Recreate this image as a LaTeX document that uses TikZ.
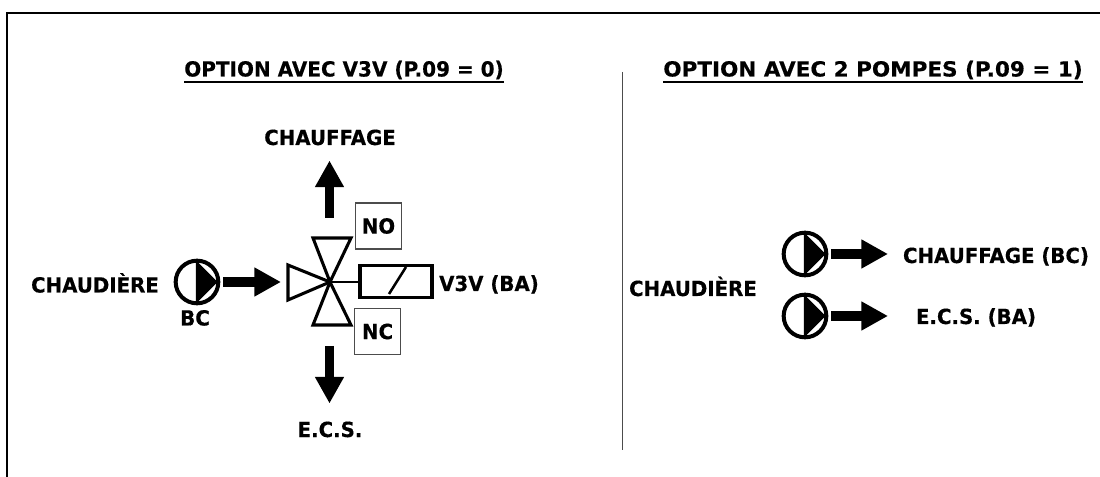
\documentclass[tikz,border=0pt]{standalone}
\usepackage{fontspec}
\usepackage{graphicx}
\setmainfont{DejaVu Sans}[BoldFeatures={FakeStretch=0.95,FakeBold=0.4}]
\usetikzlibrary{arrows.meta,calc}
\definecolor{boxgray}{gray}{0.3}
\newcommand{\ulin}[1]{\vtop{\hbox{#1}\kern 1.3pt\hrule height 1.6pt}}
\tikzset{
  x=0.75pt,y=-0.75pt,
  lbl/.style={inner sep=0pt,anchor=base,font=\fontsize{15.6}{18}\selectfont\bfseries},
  ttl/.style={lbl},
  pumpc/.style={circle,draw=black,line width=3pt,minimum size=32pt,inner sep=0pt,fill=white},
  flow/.style={line width=6.8pt,-{Triangle[length=20pt,width=20.5pt]}},
  vtri/.style={draw=black,line width=2.3pt,fill=white,line join=miter},
  tagbox/.style={draw=boxgray,line width=0.9pt,minimum width=34.5pt,minimum height=34.5pt,inner sep=0pt,font=\fontsize{15.6}{18}\selectfont\bfseries},
}
\newcommand{\pumpmark}[1]{%
  \draw[line width=1.5pt] (#1.north) -- (#1.south);
  \filldraw[line width=1.6pt,line join=round] ($(#1.center)+(0,-19)$) -- ($(#1.center)+(19,0)$) -- ($(#1.center)+(0,19)$) -- cycle;
}
\begin{document}
\begin{tikzpicture}
\useasboundingbox (0,0) rectangle (1100,477);
\fill[white] (0,0) rectangle (1100,477);
% frame
\draw[line width=1.5pt] (7,477) -- (7,13) -- (1100,13);
% divider
\coordinate (divT) at (622,72);
\coordinate (divB) at (622,450);
\draw[line width=0.7pt,draw=black!70] (divT) -- (divB);
% titles
\node[ttl] (t1) at (344,76.5) {\ulin{\scalebox{1.012}[1]{OPTION AVEC V3V (P.09 = 0)}}};
\node[ttl] (t2) at (873,76.5) {\ulin{\scalebox{1.089}[1]{OPTION AVEC 2 POMPES (P.09 = 1)}}};
% left side
\node[lbl] (chauf) at (330,145) {CHAUFFAGE};
\node[lbl] (chaud) at (95,292.5) {CHAUDIÈRE};
\node[lbl] (bc) at (195,325.5) {BC};
\node[lbl] (v3v) at (489,291) {V3V (BA)};
\node[lbl] (ecs) at (330,437) {E.C.S.};
\node[tagbox] (no) at (378.5,226) {NO};
\node[tagbox] (nc) at (377.5,331.5) {NC};
\node[pumpc] (p1) at (197,282) {};
\pumpmark{p1}
% valve
\coordinate (vc) at (330,282);
\coordinate (upS) at (329.5,218);
\coordinate (upE) at (329.5,160.5);
\coordinate (dnS) at (329.5,346);
\coordinate (dnE) at (329.5,403.5);
\coordinate (inE) at (281,282);
\draw[vtri] (vc) -- (313,238) -- (351,238) -- cycle;
\draw[vtri] (vc) -- (313,325) -- (351,325) -- cycle;
\draw[vtri] (vc) -- (288,265) -- (288,300) -- cycle;
\node[draw=black,line width=2.6pt,minimum width=54pt,minimum height=24pt,inner sep=0pt] (sol) at (396,281.5) {};
\draw[line width=1.5pt] (vc) -- (vc -| sol.west);
\coordinate (slA) at (389,294);
\coordinate (slB) at (406,267);
\draw[line width=1.9pt] (slA) -- (slB);
\draw[flow] (upS) -- (upE);
\draw[flow] (dnS) -- (dnE);
\draw[flow,shorten <=2.2pt] (p1.east) -- (inE);
% right side
\node[lbl] (chaud2) at (693,296) {CHAUDIÈRE};
\node[lbl] (cbc) at (996,263) {CHAUFFAGE (BC)};
\node[lbl] (eba) at (976,324) {E.C.S. (BA)};
\node[pumpc] (p2) at (805,254) {};
\pumpmark{p2}
\node[pumpc] (p3) at (805,316) {};
\pumpmark{p3}
\coordinate (a2) at (888,254);
\coordinate (a3) at (888,316);
\draw[flow,shorten <=2.2pt] (p2.east) -- (a2);
\draw[flow,shorten <=2.2pt] (p3.east) -- (a3);
\end{tikzpicture}
\end{document}
